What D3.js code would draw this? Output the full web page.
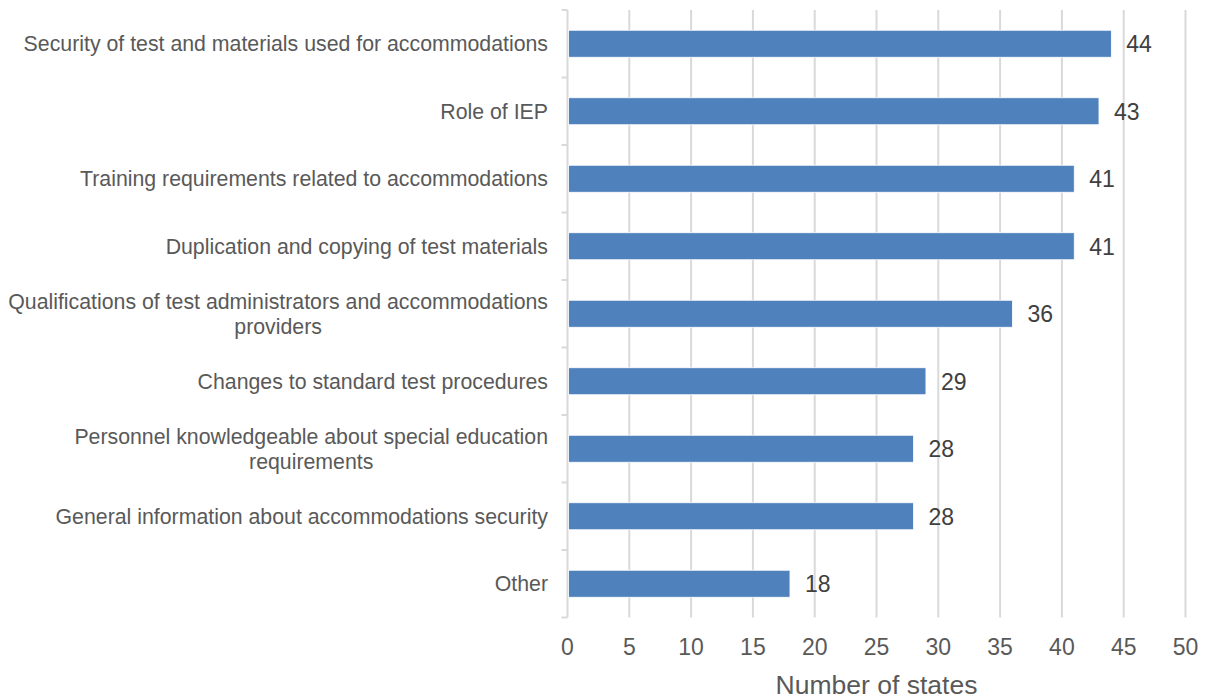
<!DOCTYPE html>
<html>
<head>
<meta charset="utf-8">
<script src="https://cdn.jsdelivr.net/npm/d3@7"></script>
<style>
  html, body { margin: 0; padding: 0; background: #fff; }
  svg { display: block; font-family: "Liberation Sans", Arial, sans-serif; }
</style>
</head>
<body>
<svg id="chart" width="1207" height="697"></svg>
<script>
// Topics covered by state accommodations security policies
const categories = [
  ["Security of test and materials used for accommodations"],
  ["Role of IEP"],
  ["Training requirements related to accommodations"],
  ["Duplication and copying of test materials"],
  ["Qualifications of test administrators and accommodations", "providers"],
  ["Changes to standard test procedures"],
  ["Personnel knowledgeable about special education", "requirements"],
  ["General information about accommodations security"],
  ["Other"]
];
const values = [44, 43, 41, 41, 36, 29, 28, 28, 18];
const xTicks = [0, 5, 10, 15, 20, 25, 30, 35, 40, 45, 50];
const axisTitle = "Number of states";

const svg = d3.select("#chart");
const margin = { left: 567.5, right: 21.5, top: 10, bottom: 79.5 };
const W = 1207, H = 697;
const labelRight = 548;

const x = d3.scaleLinear().domain([0, 50]).range([margin.left, W - margin.right]);
const y = d3.scaleBand()
  .domain(d3.range(categories.length))
  .range([margin.top, H - margin.bottom])
  .paddingInner(0.6).paddingOuter(0.3);

// vertical gridlines
svg.append("g")
  .selectAll("line")
  .data(xTicks.filter(d => d > 0))
  .join("line")
  .attr("x1", d => x(d)).attr("x2", d => x(d))
  .attr("y1", margin.top).attr("y2", H - margin.bottom)
  .attr("stroke", "#d9d9d9").attr("stroke-width", 2);

// category axis with ticks at band boundaries
const bandEdges = d3.range(categories.length + 1).map(i => margin.top + i * y.step());
const ax = svg.append("g");
ax.append("line")
  .attr("x1", x(0)).attr("x2", x(0))
  .attr("y1", margin.top).attr("y2", H - margin.bottom)
  .attr("stroke", "#d9d9d9").attr("stroke-width", 2);
ax.selectAll("line.tick")
  .data(bandEdges)
  .join("line").attr("class", "tick")
  .attr("x1", x(0) - 6).attr("x2", x(0))
  .attr("y1", d => d).attr("y2", d => d)
  .attr("stroke", "#d9d9d9").attr("stroke-width", 2);

// bars
svg.append("g")
  .selectAll("rect")
  .data(values)
  .join("rect")
  .attr("x", x(0) + 1)
  .attr("y", (d, i) => y(i))
  .attr("width", d => x(d) - x(0) - 1)
  .attr("height", y.bandwidth())
  .attr("fill", "#4F81BD")
  .attr("stroke", "#fff").attr("stroke-width", 0.8);

// value labels
svg.append("g")
  .selectAll("text")
  .data(values)
  .join("text")
  .attr("x", d => x(d) + 15)
  .attr("y", (d, i) => y(i) + y.bandwidth() / 2)
  .attr("dy", "0.36em")
  .attr("font-size", 23)
  .attr("fill", "#404040")
  .text(d => d);

// category labels; wrapped lines are centred under the first line
const fs = 21.3, lh = 25;
svg.append("g")
  .selectAll("text")
  .data(categories)
  .join("text")
  .attr("y", (d, i) => y(i) + y.bandwidth() / 2)
  .attr("font-size", fs)
  .attr("fill", "#595959")
  .each(function(lines) {
    const t = d3.select(this);
    const y0 = -(lines.length - 1) * lh / 2;
    const first = t.append("tspan")
      .attr("x", labelRight)
      .attr("text-anchor", "end")
      .attr("dy", (y0 + fs * 0.36) + "px")
      .text(lines[0]);
    const mid = labelRight - first.node().getComputedTextLength() / 2;
    lines.slice(1).forEach(ln => {
      t.append("tspan")
        .attr("x", mid)
        .attr("text-anchor", "middle")
        .attr("dy", lh + "px")
        .text(ln);
    });
  });

// x tick labels
svg.append("g")
  .selectAll("text")
  .data(xTicks)
  .join("text")
  .attr("x", d => x(d))
  .attr("y", 647)
  .attr("dy", "0.36em")
  .attr("text-anchor", "middle")
  .attr("font-size", 23)
  .attr("fill", "#595959")
  .text(d => d);

// axis title
svg.append("text")
  .attr("x", x(25))
  .attr("y", 684)
  .attr("dy", "0.36em")
  .attr("text-anchor", "middle")
  .attr("font-size", 26.5)
  .attr("fill", "#595959")
  .text(axisTitle);
</script>
</body>
</html>
